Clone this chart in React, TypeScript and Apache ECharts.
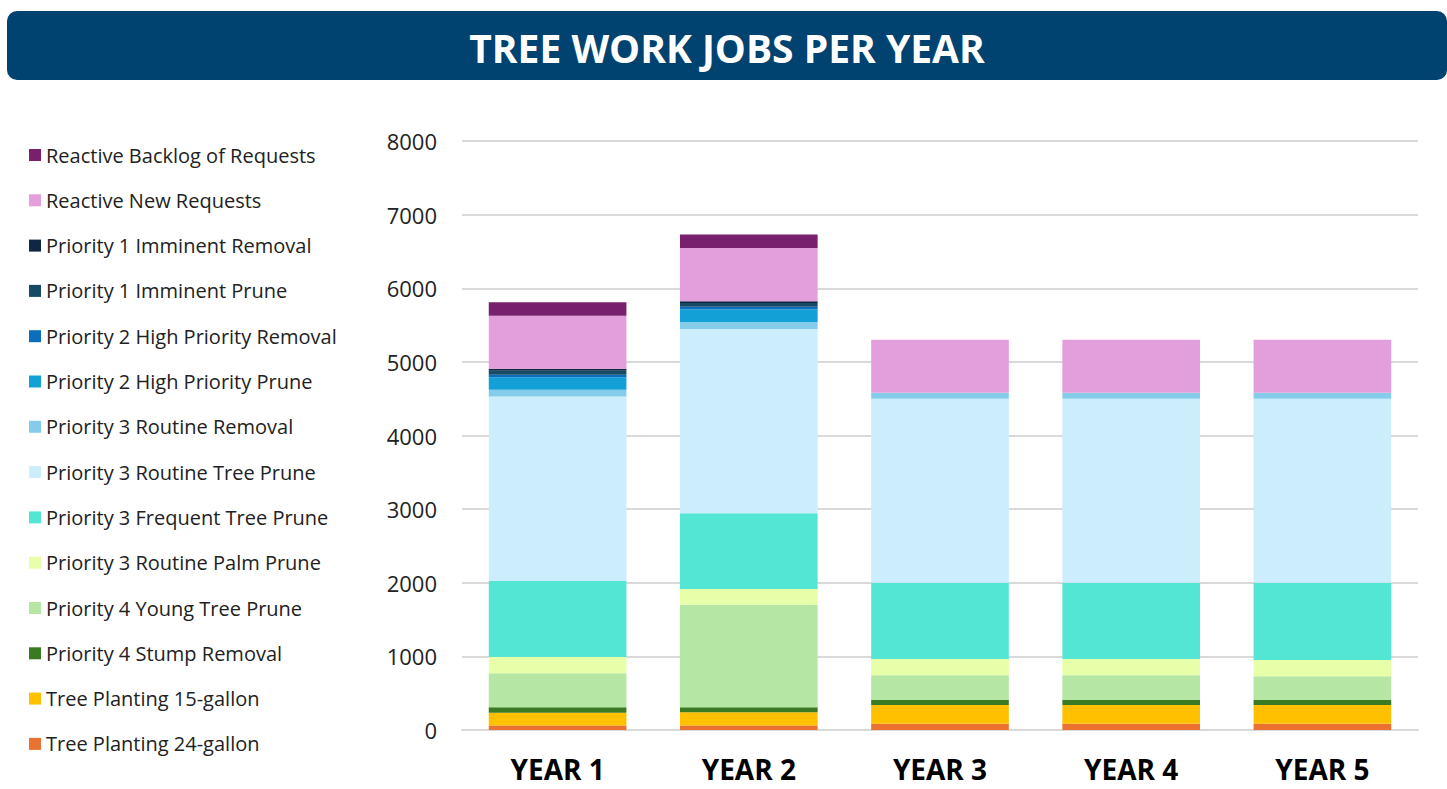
import React, { useEffect, useRef } from "react";
import * as echarts from "echarts";

const categories = ["YEAR 1", "YEAR 2", "YEAR 3", "YEAR 4", "YEAR 5"];
const yTicks = [0, 1000, 2000, 3000, 4000, 5000, 6000, 7000, 8000];

// Series names, bottom of stack first
const seriesNames = [
  "Tree Planting 24-gallon",
  "Tree Planting 15-gallon",
  "Priority 4 Stump Removal",
  "Priority 4 Young Tree Prune",
  "Priority 3 Routine Palm Prune",
  "Priority 3 Frequent Tree Prune",
  "Priority 3 Routine Tree Prune",
  "Priority 3 Routine Removal",
  "Priority 2 High Priority Prune",
  "Priority 2 High Priority Removal",
  "Priority 1 Imminent Prune",
  "Priority 1 Imminent Removal",
  "Reactive New Requests",
  "Reactive Backlog of Requests",
];

const seriesColors = [
  "#EB7131",
  "#FFC000",
  "#3A7A23",
  "#B5E6A3",
  "#E6FFA8",
  "#53E6D4",
  "#CBEDFC",
  "#85CCEA",
  "#12A0D7",
  "#0A6EBD",
  "#154B66",
  "#0F2743",
  "#E39FDC",
  "#78206E",
];

const planting24 = [60, 60, 85, 85, 85];
const planting15 = [175, 180, 255, 255, 255];
const stumpRemoval = [75, 70, 70, 70, 70];
const youngTreePrune = [460, 1390, 335, 335, 320];
const palmPrune = [220, 215, 220, 220, 220];
const frequentTreePrune = [1035, 1030, 1035, 1035, 1050];
const routineTreePrune = [2505, 2500, 2500, 2500, 2500];
const routineRemoval = [90, 95, 80, 80, 80];
const highPriorityPrune = [170, 175, 0, 0, 0];
const highPriorityRemoval = [35, 35, 0, 0, 0];
const imminentPrune = [55, 50, 0, 0, 0];
const imminentRemoval = [25, 25, 0, 0, 0];
const reactiveNew = [720, 720, 720, 720, 720];
const reactiveBacklog = [185, 185, 0, 0, 0];

const seriesValues = [
  planting24,
  planting15,
  stumpRemoval,
  youngTreePrune,
  palmPrune,
  frequentTreePrune,
  routineTreePrune,
  routineRemoval,
  highPriorityPrune,
  highPriorityRemoval,
  imminentPrune,
  imminentRemoval,
  reactiveNew,
  reactiveBacklog,
];

const FONT = "'Open Sans', 'Noto Sans', sans-serif";

export default function App() {
  const ref = useRef<HTMLDivElement>(null);

  useEffect(() => {
    if (!ref.current) return;
    const chart = echarts.init(ref.current, undefined, { renderer: "svg" });
    chart.setOption({
      animation: false,
      backgroundColor: "#ffffff",
      graphic: [
        {
          type: "rect",
          left: 7,
          top: 11,
          shape: { width: 1440, height: 69, r: 10 },
          style: { fill: "#004270" },
          z: 0,
        },
        {
          type: "text",
          x: 727,
          y: 47,
          style: {
            text: "TREE WORK JOBS PER YEAR",
            fill: "#ffffff",
            font: `bold 39px ${FONT}`,
            align: "center",
            verticalAlign: "middle",
          },
          z: 1,
        },
      ],
      legend: {
        orient: "vertical",
        left: 29,
        top: 145,
        padding: 0,
        itemWidth: 12,
        itemHeight: 12,
        itemGap: 25.3,
        icon: "rect",
        data: [...seriesNames].reverse(),
        textStyle: {
          fontFamily: FONT,
          fontSize: 20,
          color: "#222222",
        },
      },
      grid: {
        left: 462,
        right: 29,
        top: 141,
        bottom: 59,
      },
      xAxis: {
        type: "category",
        data: categories,
        axisLine: { lineStyle: { color: "#d9d9d9", width: 2 } },
        axisTick: { show: false },
        axisLabel: {
          fontFamily: FONT,
          fontWeight: "bold",
          fontSize: 28,
          lineHeight: 28,
          color: "#000000",
          margin: 25,
        },
      },
      yAxis: {
        type: "value",
        min: yTicks[0],
        max: yTicks[yTicks.length - 1],
        interval: 1000,
        axisLine: { show: false },
        axisTick: { show: false },
        splitLine: { lineStyle: { color: "#d9d9d9", width: 2 } },
        axisLabel: {
          fontFamily: FONT,
          fontSize: 22,
          color: "#222222",
          margin: 25,
          formatter: (v: number) => String(v),
        },
      },
      series: seriesNames.map((name, i) => ({
        name,
        type: "bar",
        stack: "total",
        barWidth: "72%",
        data: seriesValues[i],
        itemStyle: { color: seriesColors[i] },
      })),
    });
    return () => chart.dispose();
  }, []);

  return (
    <div
      ref={ref}
      style={{ position: "absolute", left: 0, top: 0, width: 1447, height: 789 }}
    />
  );
}
